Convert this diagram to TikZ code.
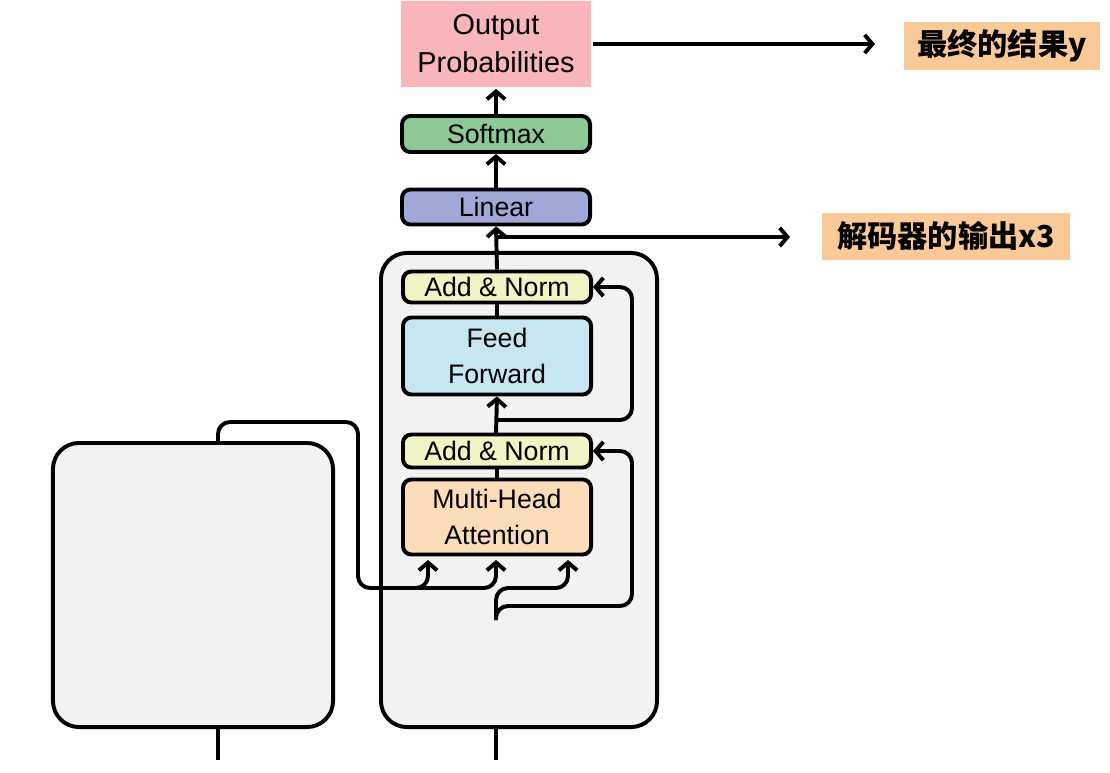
\documentclass[tikz,border=0pt]{standalone}
\usepackage{fontspec}
\setmainfont{Liberation Sans}
\newfontfamily\cjk{Noto Sans CJK SC}
\usetikzlibrary{arrows.meta}

\definecolor{probcol}{RGB}{248,182,186}
\definecolor{softcol}{RGB}{141,201,151}
\definecolor{lincol}{RGB}{160,168,215}
\definecolor{normcol}{RGB}{240,244,196}
\definecolor{ffcol}{RGB}{199,230,242}
\definecolor{attcol}{RGB}{252,221,186}
\definecolor{labcol}{RGB}{249,201,152}
\definecolor{stackcol}{RGB}{242,242,242}

\begin{document}
\begin{tikzpicture}[x=0.025cm, y=-0.025cm,
    layer/.style = {draw, line width=2.8pt, rounded corners=6pt, inner sep=0pt,
                    minimum width=4.7cm, align=center,
                    font=\fontsize{19pt}{25pt}\selectfont},
    stack/.style = {draw, line width=2.8pt, rounded corners=0.65cm, fill=stackcol, inner sep=0pt},
    note/.style  = {fill=labcol, inner sep=0pt, font=\cjk\bfseries\fontsize{21.5pt}{24pt}\selectfont},
    flow/.style  = {line width=2.8pt, rounded corners=0.3cm},
    arr/.style   = {flow, -{Straight Barb[length=5.5pt,width=13pt]}}]
    \useasboundingbox (0,0) rectangle (1110,772);

    % encoder and decoder stacks
    \node[stack, minimum width=7cm, minimum height=7.1cm] (enc) at (193,585) {};
    \node[stack, minimum width=6.9cm, minimum height=11.85cm] (dec) at (519,490) {};

    % decoder layers
    \node[layer, fill=attcol, minimum height=1.875cm] (mha) at (497,517) {Multi-Head\\Attention};
    \node[layer, fill=normcol, minimum height=0.825cm] (an1) at (497,451) {Add \& Norm};
    \node[layer, fill=ffcol, minimum height=1.925cm] (ff) at (497,356) {Feed\\Forward};
    \node[layer, fill=normcol, minimum height=0.775cm] (an2) at (497,287) {Add \& Norm};

    % output head
    \node[layer, fill=lincol, minimum height=0.875cm] (lin) at (496,207) {Linear};
    \node[layer, fill=softcol, minimum height=0.9cm] (soft) at (496,134) {Softmax};
    \node[layer, draw=none, rounded corners=0pt, fill=probcol, minimum width=4.75cm,
          minimum height=2.15cm, font=\fontsize{20.5pt}{27pt}\selectfont] (out) at (496,44) {Output\\Probabilities};

    % labels
    \node[note, minimum width=4.9cm, minimum height=1.2cm] (res) at (1002,46) {最终的结果y};
    \node[note, minimum width=6.175cm, minimum height=1.175cm] (decout) at (946,236) {解码器的输出x3};

    \coordinate (resarr) at (875,44);
    \coordinate (decarr) at (790,237);
    \coordinate (split) at (496,237);
    \coordinate (encin) at (218,760);
    \coordinate (decin) at (496,760);

    % up the stack
    \draw[arr] (an2.north) -- (lin.south);
    \draw[arr] (lin.north) -- (soft.south);
    \draw[arr] (soft.north) -- (out.south);
    \draw[flow] (ff.north) -- (an2.south);
    \draw[arr] (496,433) -- (ff.south);
    \draw[flow] (mha.north) -- (an1.south);

    % results
    \draw[arr] (out.east |- resarr) -- (resarr);
    \draw[arr] (split) -- (decarr);

    % residual paths
    \draw[arr] (496,420) -- (632,420) -- (632,287) -- (an2.east);
    \draw[arr] (496,620) -- (496,606) -- (632,606) -- (632,451) -- (an1.east);

    % attention inputs
    \draw[arr] (496,620) -- (496,588) -- (568,588) -- (568,560);
    \draw[arr] (enc.north -| 218,0) -- (218,422) -- (358,422) -- (358,588) -- (428,588) -- (428,560);
    \draw[arr] (400,588) -- (496,588) -- (496,560);

    % stack inputs
    \draw[flow] (encin) -- (enc.south -| encin);
    \draw[flow] (decin) -- (dec.south -| decin);
\end{tikzpicture}
\end{document}
